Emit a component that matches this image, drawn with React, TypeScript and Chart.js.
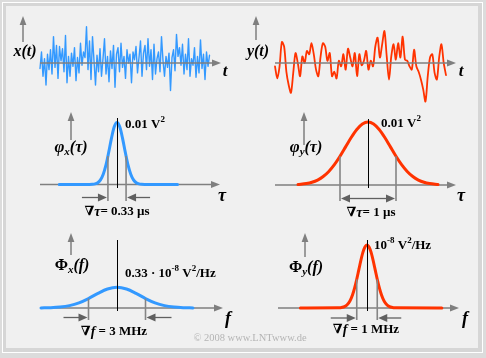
import React, { useEffect, useRef } from 'react';
import { Chart, registerables } from 'chart.js';

Chart.register(...registerables);

const SERIF = '"Liberation Serif", "Times New Roman", "DejaVu Serif", serif';
const BLUE = '#3399ff';
const RED = '#ff3300';
const AXIS = '#7f7f7f';
const GUIDE = '#858585';
const ARROW = '#606060';

// ---------- data ----------
// x(t): broadband noise signal in V (equal sample spacing)
const xSignal = [
  -0.05, 0.10, -0.12, 0.04, -0.20, 0.08, -0.06, 0.12, -0.10, 0.24,
  -0.04, 0.16, -0.14, 0.15, 0.02, 0.13, -0.08, 0.25, -0.18, 0.06,
  -0.12, 0.09, -0.03, 0.14, -0.16, 0.05, -0.09, 0.18, -0.02, 0.10,
  0.05, 0.33, -0.06, 0.20, -0.15, 0.24, 0.02, -0.20, 0.07, -0.08,
  0.13, -0.12, 0.04, 0.22, -0.10, 0.06, -0.17, 0.11, -0.05, 0.16,
  -0.22, 0.08, 0.14, -0.08, 0.18, -0.04, 0.06, -0.14, 0.12, 0.00,
  0.08, -0.18, 0.10, 0.03, 0.15, -0.09, 0.05, 0.20, -0.12, 0.09,
  0.16, -0.06, 0.22, -0.03, 0.12, -0.15, 0.17, -0.10, 0.04, 0.10,
  -0.08, 0.24, 0.02, -0.12, 0.06, -0.04, 0.09, -0.25, 0.05, 0.12,
  -0.07, 0.26, 0.06, 0.14, -0.02, 0.17, -0.10, 0.08, -0.06, 0.22,
  -0.12, 0.04, -0.02, 0.14, -0.13, 0.06, -0.09, 0.21, -0.05, 0.08,
  -0.15, 0.10, -0.03, 0.07,
];

// y(t): lowpass-filtered noise signal in V (equal sample spacing)
const ySignal = [
  -0.03, -0.14, -0.03, 0.19, 0.15, -0.08, -0.20, -0.27, -0.09, 0.09,
  0.00, -0.12, 0.06, 0.00, 0.11, 0.08, 0.18, 0.08, -0.06, -0.12,
  0.06, 0.18, 0.15, 0.02, 0.09, -0.12, -0.08, -0.14, 0.02, -0.03,
  0.08, -0.06, 0.13, 0.05, -0.03, 0.09, -0.12, 0.08, -0.02, 0.02,
  0.11, -0.06, 0.02, -0.03, 0.15, 0.23, 0.05, 0.17, 0.29, 0.06,
  -0.15, 0.06, 0.17, 0.03, 0.18, 0.05, 0.24, 0.03, 0.02, -0.03,
  -0.06, 0.12, -0.03, -0.08, -0.15, -0.24, -0.35, -0.12, 0.05, 0.08,
  -0.09, -0.15, 0.05, 0.17, 0.00, -0.11,
];

// φx(τ): τ in µs, values in V²
const tauX = [-1.05, -0.5, -0.45, -0.4, -0.35, -0.3, -0.25, -0.2, -0.15, -0.1, -0.05, 0,
  0.05, 0.1, 0.15, 0.2, 0.25, 0.3, 0.35, 0.4, 0.45, 0.5, 1.1];
const phiX = [0, 0.0000074, 0.000029, 0.000099, 0.000292, 0.000746, 0.00165, 0.00315, 0.00523, 0.00749, 0.0093, 0.01,
  0.0093, 0.00749, 0.00523, 0.00315, 0.00165, 0.000746, 0.000292, 0.000099, 0.000029, 0.0000074, 0];

// φy(τ): τ in µs, values in V²
const tauY = [-1.25, -1.2, -1.1, -1.0, -0.9, -0.8, -0.7, -0.6, -0.5, -0.4, -0.3, -0.2, -0.1, 0,
  0.1, 0.2, 0.3, 0.4, 0.5, 0.6, 0.7, 0.8, 0.9, 1.0, 1.1, 1.2, 1.25];
const phiY = [0.000074, 0.000108, 0.000223, 0.000432, 0.000785, 0.00134, 0.00215, 0.00323, 0.00456, 0.00605, 0.00754, 0.00882, 0.00969, 0.01,
  0.00969, 0.00882, 0.00754, 0.00605, 0.00456, 0.00323, 0.00215, 0.00134, 0.000785, 0.000432, 0.000223, 0.000108, 0.000074];

// Φx(f): f in MHz, values in 10^-8 V²/Hz
const fX = [-4, -3.5, -3, -2.5, -2, -1.5, -1, -0.5, 0, 0.5, 1, 1.5, 2, 2.5, 3, 3.5, 4];
const PhiX = [0.0012, 0.0046, 0.0143, 0.0372, 0.0817, 0.150, 0.233, 0.302, 0.33, 0.302, 0.233, 0.150, 0.0817, 0.0372, 0.0143, 0.0046, 0.0012];

// Φy(f): f in MHz, values in 10^-8 V²/Hz
const fY = [-3.25, -1.4, -1.3, -1.2, -1.1, -1.0, -0.9, -0.8, -0.7, -0.6, -0.5, -0.4, -0.3, -0.2, -0.1, 0,
  0.1, 0.2, 0.3, 0.4, 0.5, 0.6, 0.7, 0.8, 0.9, 1.0, 1.1, 1.2, 1.3, 1.4, 3.65];
const PhiY = [0, 0.0021, 0.0049, 0.0108, 0.0223, 0.0432, 0.0785, 0.134, 0.215, 0.323, 0.456, 0.605, 0.754, 0.882, 0.969, 1,
  0.969, 0.882, 0.754, 0.605, 0.456, 0.323, 0.215, 0.134, 0.0785, 0.0432, 0.0223, 0.0108, 0.0049, 0.0021, 0];

// equivalent widths
const dTauX = 0.33; // µs
const dTauY = 1; // µs
const dfX = 3; // MHz
const dfY = 1; // MHz

// ---------- helpers ----------
type Seg = { s: string; f: string; dy?: number };
const BI = (n: number) => `italic bold ${n}px ${SERIF}`;
const B = (n: number) => `bold ${n}px ${SERIF}`;

function rich(ctx: CanvasRenderingContext2D, x: number, y: number, segs: Seg[], align: 'left' | 'center' = 'left', color = '#000') {
  ctx.save();
  ctx.textBaseline = 'middle';
  ctx.textAlign = 'left';
  ctx.fillStyle = color;
  let w = 0;
  for (const s of segs) { ctx.font = s.f; w += ctx.measureText(s.s).width; }
  let cx = align === 'center' ? x - w / 2 : x;
  for (const s of segs) {
    ctx.font = s.f;
    ctx.fillText(s.s, cx, y + (s.dy || 0));
    cx += ctx.measureText(s.s).width;
  }
  ctx.restore();
}

function line(ctx: CanvasRenderingContext2D, x1: number, y1: number, x2: number, y2: number, color: string, w: number) {
  ctx.save();
  ctx.strokeStyle = color;
  ctx.lineWidth = w;
  ctx.beginPath();
  ctx.moveTo(x1, y1);
  ctx.lineTo(x2, y2);
  ctx.stroke();
  ctx.restore();
}

function arrow(ctx: CanvasRenderingContext2D, x1: number, y1: number, x2: number, y2: number, color: string, w: number, len: number, half: number) {
  const L = Math.hypot(x2 - x1, y2 - y1);
  const dx = (x2 - x1) / L, dy = (y2 - y1) / L;
  line(ctx, x1, y1, x2 - dx * len * 0.7, y2 - dy * len * 0.7, color, w);
  const bx = x2 - dx * len, by = y2 - dy * len;
  const nx = -dy, ny = dx;
  ctx.save();
  ctx.fillStyle = color;
  ctx.beginPath();
  ctx.moveTo(x2, y2);
  ctx.lineTo(bx + nx * half, by + ny * half);
  ctx.lineTo(bx - nx * half, by - ny * half);
  ctx.closePath();
  ctx.fill();
  ctx.restore();
}

function interp(xs: number[], ys: number[], x: number) {
  for (let i = 0; i < xs.length - 1; i++) {
    if (x >= xs[i] && x <= xs[i + 1]) {
      const r = (x - xs[i]) / (xs[i + 1] - xs[i]);
      return ys[i] + r * (ys[i + 1] - ys[i]);
    }
  }
  return 0;
}

const pts = (xs: number[], ys: number[]) => xs.map((x, i) => ({ x, y: ys[i] }));
const sampleIdx = (arr: number[]) => arr.map((_, i) => i);

type Mapper = (v: number) => number;
interface Spec {
  left: number; top: number; width: number; height: number;
  x0: number; y0: number; kx: number; ky: number;
  points: { x: number; y: number }[];
  color: string; lw: number; tension: number; mono: boolean;
  axisFrom: number; axisTo: number; axisOnTop: boolean;
  vArrow: [number, number, number];
  deco: (ctx: CanvasRenderingContext2D, X: Mapper, Y: Mapper) => void;
}

interface GuideOpts {
  xs: number[]; ys: number[]; w: number;
  blackTop: number; blackBottom: number; guideBottom: number;
  arrowY: number; outL: number; outR: number; double: boolean;
}

function guides(ctx: CanvasRenderingContext2D, X: Mapper, Y: Mapper, g: GuideOpts) {
  const xl = X(-g.w / 2), xr = X(g.w / 2);
  const yl = Y(interp(g.xs, g.ys, -g.w / 2)), yr = Y(interp(g.xs, g.ys, g.w / 2));
  line(ctx, xl, yl, xl, g.guideBottom, GUIDE, 1.6);
  line(ctx, xr, yr, xr, g.guideBottom, GUIDE, 1.6);
  const xc = Math.round(X(0)) + 0.5;
  line(ctx, xc, g.blackTop, xc, g.blackBottom, '#000', 1);
  if (g.double) {
    const m = (xl + xr) / 2;
    arrow(ctx, m, g.arrowY, xl + 1, g.arrowY, ARROW, 1.3, 9, 4);
    arrow(ctx, m, g.arrowY, xr - 1, g.arrowY, ARROW, 1.3, 9, 4);
  } else {
    arrow(ctx, xl - g.outL, g.arrowY, xl - 1, g.arrowY, ARROW, 1.3, 9, 4);
    arrow(ctx, xr + g.outR, g.arrowY, xr + 1, g.arrowY, ARROW, 1.3, 9, 4);
  }
}

function drawAxes(ctx: CanvasRenderingContext2D, Y: Mapper, sp: Spec) {
  const y = Y(0);
  arrow(ctx, sp.axisFrom, y, sp.axisTo, y, AXIS, 1.5, 9, 3.6);
  const [vx, vb, vt] = sp.vArrow;
  arrow(ctx, vx, vb, vx, vt, AXIS, 1.5, 9, 3.4);
}

const specs: Spec[] = [
  {
    left: 8, top: 8, width: 232, height: 97, x0: 40, y0: 63, kx: 1.5, ky: 110,
    points: pts(sampleIdx(xSignal), xSignal), color: BLUE, lw: 1.4, tension: 0, mono: false,
    axisFrom: 40, axisTo: 221, axisOnTop: true, vArrow: [23, 42, 16],
    deco: (ctx) => {
      rich(ctx, 25, 52, [{ s: 'x(t)', f: BI(16) }], 'center');
      rich(ctx, 225, 72, [{ s: 't', f: BI(17) }], 'center');
    },
  },
  {
    left: 242, top: 8, width: 234, height: 97, x0: 275, y0: 63, kx: 2.28, ky: 110,
    points: pts(sampleIdx(ySignal), ySignal), color: RED, lw: 1.8, tension: 0.3, mono: false,
    axisFrom: 275, axisTo: 456, axisOnTop: true, vArrow: [256, 40, 16],
    deco: (ctx) => {
      rich(ctx, 258, 52, [{ s: 'y(t)', f: BI(16) }], 'center');
      rich(ctx, 461, 72, [{ s: 't', f: BI(17) }], 'center');
    },
  },
  {
    left: 8, top: 105, width: 232, height: 120, x0: 117, y0: 184.5, kx: 55, ky: 6200,
    points: pts(tauX, phiX), color: BLUE, lw: 3, tension: 0, mono: true,
    axisFrom: 40, axisTo: 220, axisOnTop: false, vArrow: [71, 140, 112],
    deco: (ctx, X, Y) => {
      guides(ctx, X, Y, { xs: tauX, ys: phiX, w: dTauX, blackTop: 118, blackBottom: 188, guideBottom: 201, arrowY: 197.5, outL: 26, outR: 24, double: false });
      rich(ctx, 71, 148, [{ s: 'φ', f: BI(17) }, { s: 'x', f: BI(11), dy: 4 }, { s: '(τ)', f: BI(16) }], 'center');
      rich(ctx, 125, 125, [{ s: '0.01 V', f: B(13) }, { s: '2', f: B(9), dy: -5 }]);
      rich(ctx, 117, 212, [{ s: '∇', f: B(13) }, { s: 'τ', f: BI(14) }, { s: '= 0.33 µs', f: B(13) }], 'center');
      rich(ctx, 222, 196, [{ s: 'τ', f: BI(18) }], 'center');
    },
  },
  {
    left: 242, top: 105, width: 234, height: 120, x0: 368, y0: 185, kx: 56, ky: 6300,
    points: pts(tauY, phiY), color: RED, lw: 3, tension: 0, mono: true,
    axisFrom: 275, axisTo: 456, axisOnTop: false, vArrow: [304, 145, 112],
    deco: (ctx, X, Y) => {
      guides(ctx, X, Y, { xs: tauY, ys: phiY, w: dTauY, blackTop: 119, blackBottom: 188, guideBottom: 201, arrowY: 198.5, outL: 0, outR: 0, double: true });
      rich(ctx, 306, 148, [{ s: 'φ', f: BI(17) }, { s: 'y', f: BI(11), dy: 4 }, { s: '(τ)', f: BI(16) }], 'center');
      rich(ctx, 381, 124, [{ s: '0.01 V', f: B(13) }, { s: '2', f: B(9), dy: -5 }]);
      rich(ctx, 371, 213, [{ s: '∇', f: B(13) }, { s: 'τ', f: BI(14) }, { s: '= 1 µs', f: B(13) }], 'center');
      rich(ctx, 461, 196, [{ s: 'τ', f: BI(18) }], 'center');
    },
  },
  {
    left: 8, top: 225, width: 232, height: 115, x0: 117, y0: 308, kx: 19, ky: 63,
    points: pts(fX, PhiX), color: BLUE, lw: 3, tension: 0, mono: true,
    axisFrom: 42, axisTo: 223, axisOnTop: false, vArrow: [71, 255, 233],
    deco: (ctx, X, Y) => {
      guides(ctx, X, Y, { xs: fX, ys: PhiX, w: dfX, blackTop: 240, blackBottom: 311, guideBottom: 320, arrowY: 317.5, outL: 25, outR: 26, double: false });
      rich(ctx, 72, 266, [{ s: 'Φ', f: B(16) }, { s: 'x', f: BI(11), dy: 4 }, { s: '(f)', f: BI(16) }], 'center');
      rich(ctx, 125, 274, [
        { s: '0.33 · 10', f: B(13) }, { s: '-8', f: B(9), dy: -5 },
        { s: ' V', f: B(13) }, { s: '2', f: B(9), dy: -5 }, { s: '/Hz', f: B(13) },
      ]);
      rich(ctx, 114, 332, [{ s: '∇', f: B(13) }, { s: 'f', f: BI(14) }, { s: ' = 3 MHz', f: B(13) }], 'center');
      rich(ctx, 228, 319, [{ s: 'f', f: BI(18) }], 'center');
    },
  },
  {
    left: 242, top: 225, width: 234, height: 115, x0: 367, y0: 308, kx: 20.5, ky: 63,
    points: pts(fY, PhiY), color: RED, lw: 3, tension: 0, mono: true,
    axisFrom: 278, axisTo: 459, axisOnTop: false, vArrow: [305, 257, 233],
    deco: (ctx, X, Y) => {
      guides(ctx, X, Y, { xs: fY, ys: PhiY, w: dfY, blackTop: 240, blackBottom: 311, guideBottom: 320, arrowY: 318, outL: 26, outR: 24, double: false });
      rich(ctx, 306, 268, [{ s: 'Φ', f: B(16) }, { s: 'y', f: BI(11), dy: 4 }, { s: '(f)', f: BI(16) }], 'center');
      rich(ctx, 374, 246, [
        { s: '10', f: B(13) }, { s: '-8', f: B(9), dy: -5 },
        { s: ' V', f: B(13) }, { s: '2', f: B(9), dy: -5 }, { s: '/Hz', f: B(13) },
      ]);
      rich(ctx, 366, 330, [{ s: '∇', f: B(13) }, { s: 'f', f: BI(14) }, { s: ' = 1 MHz', f: B(13) }], 'center');
      rich(ctx, 465, 319, [{ s: 'f', f: BI(18) }], 'center');
    },
  },
];

function buildConfig(sp: Spec): any {
  const withPage = (chart: any, fn: (ctx: CanvasRenderingContext2D, X: Mapper, Y: Mapper) => void) => {
    const ctx = chart.ctx as CanvasRenderingContext2D;
    const sx = chart.scales.x, sy = chart.scales.y;
    const X: Mapper = (v) => sx.getPixelForValue(v) + sp.left;
    const Y: Mapper = (v) => sy.getPixelForValue(v) + sp.top;
    ctx.save();
    ctx.translate(-sp.left, -sp.top);
    fn(ctx, X, Y);
    ctx.restore();
  };
  return {
    type: 'line',
    data: {
      datasets: [{
        data: sp.points,
        borderColor: sp.color,
        borderWidth: sp.lw,
        pointRadius: 0,
        tension: sp.tension,
        cubicInterpolationMode: sp.mono ? 'monotone' : 'default',
        fill: false,
        borderCapStyle: 'round',
        borderJoinStyle: 'round',
      }],
    },
    options: {
      responsive: false,
      maintainAspectRatio: false,
      animation: false,
      devicePixelRatio: 1,
      events: [],
      layout: { padding: 0 },
      plugins: { legend: { display: false }, tooltip: { enabled: false } },
      scales: {
        x: { type: 'linear', display: false, min: (sp.left - sp.x0) / sp.kx, max: (sp.left + sp.width - sp.x0) / sp.kx },
        y: { type: 'linear', display: false, min: (sp.y0 - (sp.top + sp.height)) / sp.ky, max: (sp.y0 - sp.top) / sp.ky },
      },
    },
    plugins: [{
      id: 'deco',
      beforeDatasetsDraw(chart: any) {
        if (!sp.axisOnTop) withPage(chart, (ctx, X, Y) => drawAxes(ctx, Y, sp));
      },
      afterDatasetsDraw(chart: any) {
        withPage(chart, (ctx, X, Y) => {
          if (sp.axisOnTop) drawAxes(ctx, Y, sp);
          sp.deco(ctx, X, Y);
        });
      },
    }],
  };
}

function Panel({ sp }: { sp: Spec }) {
  const ref = useRef<HTMLCanvasElement>(null);
  useEffect(() => {
    const chart = new Chart(ref.current as HTMLCanvasElement, buildConfig(sp));
    return () => chart.destroy();
  }, []);
  return (
    <canvas
      ref={ref}
      width={sp.width}
      height={sp.height}
      style={{ position: 'absolute', left: sp.left, top: sp.top, width: sp.width, height: sp.height, display: 'block' }}
    />
  );
}

export default function App() {
  return (
    <div style={{ position: 'fixed', left: 0, top: 0, width: 486, height: 358, background: '#dcdcdc', overflow: 'hidden' }}>
      <div style={{ position: 'absolute', left: 2, top: 2, width: 481, height: 351, border: '1px solid #ffffff', boxSizing: 'border-box', background: '#d6d6d6' }} />
      <div style={{ position: 'absolute', left: 6, top: 6, width: 472, height: 342, background: '#f0f0f0' }} />
      {specs.map((sp, i) => <Panel key={i} sp={sp} />)}
      <div style={{ position: 'absolute', left: 150, width: 200, top: 332, textAlign: 'center', font: `10.5px ${SERIF}`, color: '#b4b4b4', pointerEvents: 'none' }}>
        © 2008 www.LNTwww.de
      </div>
    </div>
  );
}
